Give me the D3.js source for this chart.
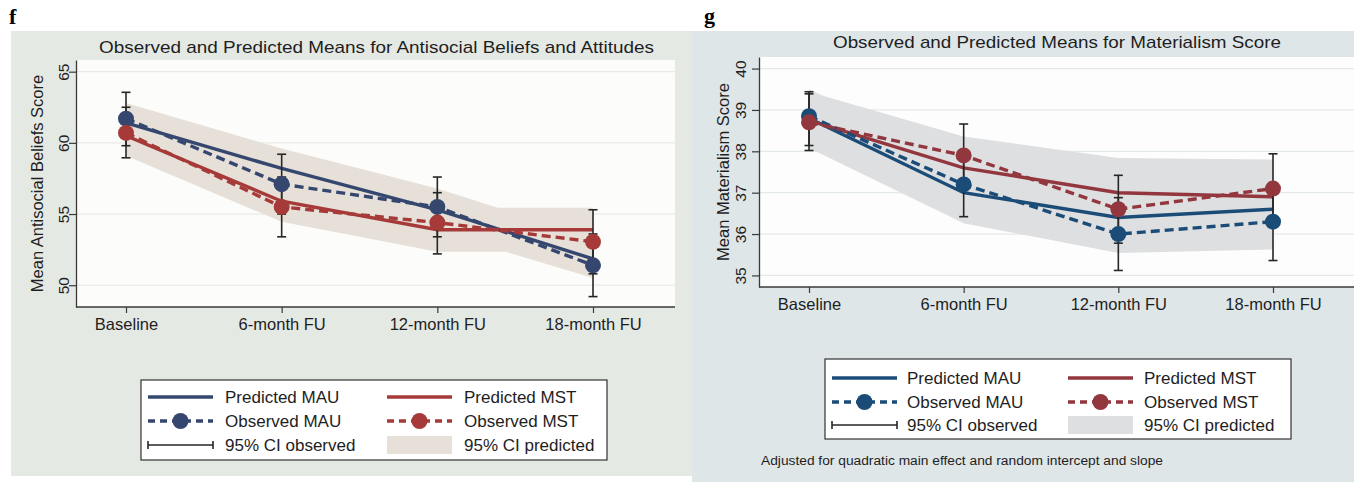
<!DOCTYPE html>
<html>
<head>
<meta charset="utf-8">
<script src="https://cdn.jsdelivr.net/npm/d3@7"></script>
<style>
  body { margin: 0; background: #ffffff; }
  svg { display: block; font-family: "Liberation Sans", Arial, sans-serif; }
</style>
</head>
<body>
<svg id="chart" width="1354" height="482"></svg>
<script>
// ---- Data ---------------------------------------------------------------
const timepoints = ["Baseline", "6-month FU", "12-month FU", "18-month FU"];

// Panel f: antisocial beliefs and attitudes
const asbTicks = [50, 55, 60, 65];
const asbPredMAU = [61.4, 58.2, 55.3, 51.85];
const asbPredMST = [60.5, 55.9, 53.9, 53.9];
const asbObsMAU = [61.7, 57.1, 55.5, 51.4];
const asbObsMST = [60.7, 55.5, 54.4, 53.05];
const asbCiObsMAU = [[59.8, 63.55], [55.0, 59.2], [53.4, 57.6], [49.2, 53.6]];
const asbCiObsMST = [[58.95, 62.5], [53.4, 57.6], [52.2, 56.5], [50.8, 55.3]];
const asbCiPredMAU = [[60.0, 62.8], [56.8, 59.6], [53.8, 56.8], [50.5, 53.3]];
const asbCiPredMST = [[59.1, 61.9], [54.45, 57.35], [52.35, 55.45], [52.35, 55.45]];

// Panel g: materialism score
const matTicks = [35, 36, 37, 38, 39, 40];
const matPredMAU = [38.8, 37.0, 36.4, 36.6];
const matPredMST = [38.75, 37.6, 37.0, 36.9];
const matObsMAU = [38.85, 37.2, 36.0, 36.3];
const matObsMST = [38.7, 37.9, 36.6, 37.1];
const matCiObsMAU = [[38.14, 39.44], [36.42, 37.98], [35.12, 36.88], [35.36, 37.24]];
const matCiObsMST = [[38.02, 39.39], [37.14, 38.66], [35.78, 37.42], [36.26, 37.94]];
const matCiPredMAU = [[38.08, 39.5], [36.26, 37.75], [35.54, 37.26], [35.63, 37.56]];
const matCiPredMST = [[38.05, 39.44], [36.84, 38.36], [36.16, 37.84], [36.0, 37.8]];

const legendLabels = ["Predicted MAU", "Predicted MST", "Observed MAU", "Observed MST", "95% CI observed", "95% CI predicted"];
const footnote = "Adjusted for quadratic main effect and random intercept and slope";

// ---- Panel layout and styling -------------------------------------------
const panels = [
  {
    letter: "f", letterPos: [9, 24],
    title: "Observed and Predicted Means for Antisocial Beliefs and Attitudes",
    titleX: 376.5, titleY: 53, titleW: 555,
    yLabel: "Mean Antisocial Beliefs Score", yLabelX: 43,
    bg: { x: 11, y: 31, w: 681, h: 445, fill: "#e5e9e4" },
    plot: { x0: 76, x1: 675, y0: 60, y1: 307, fill: "#fcfcfa", grid: "#e9ebe6" },
    yDomain: [48.47, 65.82], yTicks: asbTicks, xRange: [126, 593],
    tickLabelGap: 7.5, xLabelY: 330,
    blue: "#35476f", red: "#a63a39", band: "#e6e0d9",
    predMAU: asbPredMAU, predMST: asbPredMST, obsMAU: asbObsMAU, obsMST: asbObsMST,
    ciObsMAU: asbCiObsMAU, ciObsMST: asbCiObsMST, ciPredMAU: asbCiPredMAU, ciPredMST: asbCiPredMST,
    legend: { x: 141, y: 380, w: 466, h: 80, cols: [148, 387], textCols: [225, 464], rows: [397, 421, 445] }
  },
  {
    letter: "g", letterPos: [704, 23],
    title: "Observed and Predicted Means for Materialism Score",
    titleX: 1057, titleY: 48, titleW: 448,
    yLabel: "Mean Materialism Score", yLabelX: 729,
    bg: { x: 692, y: 31, w: 662, h: 451, fill: "#dfe6e8" },
    plot: { x0: 759, x1: 1354, y0: 57, y1: 287, fill: "#fdfdfd", grid: "#e4e9ea" },
    yDomain: [34.72, 40.28], yTicks: matTicks, xRange: [809, 1273],
    tickLabelGap: 13.5, xLabelY: 310,
    blue: "#1b4c77", red: "#93373f", band: "#dedfe0",
    predMAU: matPredMAU, predMST: matPredMST, obsMAU: matObsMAU, obsMST: matObsMST,
    ciObsMAU: matCiObsMAU, ciObsMST: matCiObsMST, ciPredMAU: matCiPredMAU, ciPredMST: matCiPredMST,
    legend: { x: 825, y: 359, w: 466, h: 80, cols: [832, 1068], textCols: [907, 1144], rows: [378, 402, 425] },
    note: { x: 761, y: 465, w: 402 }
  }
];

const svg = d3.select("#chart");
const axisColor = "#3a3a3a";
const ciColor = "#262626";

function drawPanel(p) {
  const g = svg.append("g");

  // background regions
  g.append("rect").attr("x", p.bg.x).attr("y", p.bg.y).attr("width", p.bg.w).attr("height", p.bg.h)
    .attr("fill", p.bg.fill);
  g.append("rect").attr("x", p.plot.x0).attr("y", p.plot.y0)
    .attr("width", p.plot.x1 - p.plot.x0).attr("height", p.plot.y1 - p.plot.y0)
    .attr("fill", p.plot.fill);

  // panel letter
  svg.append("text").attr("x", p.letterPos[0]).attr("y", p.letterPos[1])
    .attr("font-family", "'Liberation Serif', 'Times New Roman', serif")
    .attr("font-weight", "bold").attr("font-size", 22).attr("fill", "#000").text(p.letter);

  // title
  g.append("text").attr("x", p.titleX).attr("y", p.titleY).attr("text-anchor", "middle")
    .attr("font-size", 17).attr("fill", "#1e1e1e")
    .attr("textLength", p.titleW).attr("lengthAdjust", "spacingAndGlyphs").text(p.title);

  const x = d3.scalePoint().domain(timepoints).range(p.xRange);
  const y = d3.scaleLinear().domain(p.yDomain).range([p.plot.y1, p.plot.y0]);

  // gridlines
  g.append("g").selectAll("line").data(p.yTicks).join("line")
    .attr("x1", p.plot.x0).attr("x2", p.plot.x1)
    .attr("y1", d => y(d)).attr("y2", d => y(d))
    .attr("stroke", p.plot.grid).attr("stroke-width", 1.2);

  // 95% CI predicted bands
  const band = d3.area()
    .x((d, i) => x(timepoints[i]))
    .y0(d => y(d[0])).y1(d => y(d[1]));
  [p.ciPredMST, p.ciPredMAU].forEach(ci => {
    g.append("path").attr("d", band(ci)).attr("fill", p.band);
  });

  // predicted trajectories
  const line = d3.line().x((d, i) => x(timepoints[i])).y(d => y(d));
  g.append("path").attr("d", line(p.predMAU)).attr("fill", "none")
    .attr("stroke", p.blue).attr("stroke-width", 3.4);
  g.append("path").attr("d", line(p.predMST)).attr("fill", "none")
    .attr("stroke", p.red).attr("stroke-width", 3.4);

  // 95% CI observed (capped spikes)
  const capHalf = 4.5;
  [p.ciObsMAU, p.ciObsMST].forEach(ci => {
    const eg = g.append("g").attr("stroke", ciColor).attr("stroke-width", 1.6);
    ci.forEach((d, i) => {
      const cx = x(timepoints[i]);
      eg.append("line").attr("x1", cx).attr("x2", cx).attr("y1", y(d[0])).attr("y2", y(d[1]));
      eg.append("line").attr("x1", cx - capHalf).attr("x2", cx + capHalf).attr("y1", y(d[0])).attr("y2", y(d[0]));
      eg.append("line").attr("x1", cx - capHalf).attr("x2", cx + capHalf).attr("y1", y(d[1])).attr("y2", y(d[1]));
    });
  });

  // observed means: dashed connected lines with markers
  [[p.obsMAU, p.blue], [p.obsMST, p.red]].forEach(([vals, col]) => {
    g.append("path").attr("d", line(vals)).attr("fill", "none")
      .attr("stroke", col).attr("stroke-width", 3.4).attr("stroke-dasharray", "9,5");
    g.append("g").selectAll("circle").data(vals).join("circle")
      .attr("cx", (d, i) => x(timepoints[i])).attr("cy", d => y(d)).attr("r", 8)
      .attr("fill", col);
  });

  // y axis
  const yAxis = g.append("g").attr("transform", `translate(${p.plot.x0},0)`)
    .call(d3.axisLeft(y).tickValues(p.yTicks).tickSize(7).tickSizeOuter(0).tickFormat(d3.format("d")));
  yAxis.select(".domain").attr("stroke", axisColor).attr("stroke-width", 1.3);
  yAxis.selectAll(".tick line").attr("stroke", axisColor).attr("stroke-width", 1.2);
  yAxis.selectAll(".tick text")
    .attr("transform", "rotate(-90)").attr("x", 0).attr("y", -p.tickLabelGap).attr("dy", 0)
    .attr("text-anchor", "middle").attr("font-size", 15.5).attr("fill", "#1e1e1e")
    .attr("font-family", "'Liberation Sans', Arial, sans-serif");

  // x axis
  g.append("line").attr("x1", p.plot.x0).attr("x2", p.plot.x1)
    .attr("y1", p.plot.y1).attr("y2", p.plot.y1).attr("stroke", axisColor).attr("stroke-width", 1.3);
  const xAxis = g.append("g").attr("transform", `translate(0,${p.plot.y1})`)
    .call(d3.axisBottom(x).tickSize(6).tickSizeOuter(0));
  xAxis.select(".domain").remove();
  xAxis.selectAll(".tick line").attr("stroke", axisColor).attr("stroke-width", 1.2);
  xAxis.selectAll(".tick text")
    .attr("y", p.xLabelY - p.plot.y1).attr("dy", 0)
    .attr("font-size", 16.5).attr("fill", "#1e1e1e")
    .attr("font-family", "'Liberation Sans', Arial, sans-serif");

  // y axis title
  const yMid = (p.plot.y0 + p.plot.y1) / 2;
  g.append("text").attr("transform", `translate(${p.yLabelX},${yMid}) rotate(-90)`)
    .attr("text-anchor", "middle").attr("font-size", 16.5).attr("fill", "#1e1e1e").text(p.yLabel);

  // legend
  const L = p.legend;
  const lg = g.append("g");
  lg.append("rect").attr("x", L.x).attr("y", L.y).attr("width", L.w).attr("height", L.h)
    .attr("fill", "#ffffff").attr("stroke", "#333").attr("stroke-width", 1.2);
  const symW = 65;
  const kinds = ["pred", "pred", "obs", "obs", "cap", "band"];
  const cols = [p.blue, p.red, p.blue, p.red, ciColor, p.band];
  legendLabels.forEach((lab, k) => {
    const c = k % 2, r = Math.floor(k / 2);
    const sx = L.cols[c], sy = L.rows[r];
    if (kinds[k] === "pred") {
      lg.append("line").attr("x1", sx).attr("x2", sx + symW).attr("y1", sy).attr("y2", sy)
        .attr("stroke", cols[k]).attr("stroke-width", 3.4);
    } else if (kinds[k] === "obs") {
      lg.append("line").attr("x1", sx).attr("x2", sx + symW).attr("y1", sy).attr("y2", sy)
        .attr("stroke", cols[k]).attr("stroke-width", 3.4).attr("stroke-dasharray", "7,5");
      lg.append("circle").attr("cx", sx + symW / 2).attr("cy", sy).attr("r", 8).attr("fill", cols[k]);
    } else if (kinds[k] === "cap") {
      lg.append("line").attr("x1", sx).attr("x2", sx + symW).attr("y1", sy).attr("y2", sy)
        .attr("stroke", cols[k]).attr("stroke-width", 1.6);
      [sx, sx + symW].forEach(ex => lg.append("line").attr("x1", ex).attr("x2", ex)
        .attr("y1", sy - 4).attr("y2", sy + 4).attr("stroke", cols[k]).attr("stroke-width", 1.6));
    } else {
      lg.append("rect").attr("x", sx).attr("y", sy - 9).attr("width", symW).attr("height", 18)
        .attr("fill", cols[k]);
    }
    lg.append("text").attr("x", L.textCols[c]).attr("y", sy + 6)
      .attr("font-size", 17).attr("fill", "#1e1e1e").text(lab);
  });

  // footnote
  if (p.note) {
    g.append("text").attr("x", p.note.x).attr("y", p.note.y).attr("font-size", 12.5)
      .attr("fill", "#1e1e1e").attr("textLength", p.note.w).attr("lengthAdjust", "spacingAndGlyphs")
      .text(footnote);
  }
}

panels.forEach(drawPanel);
</script>
</body>
</html>
